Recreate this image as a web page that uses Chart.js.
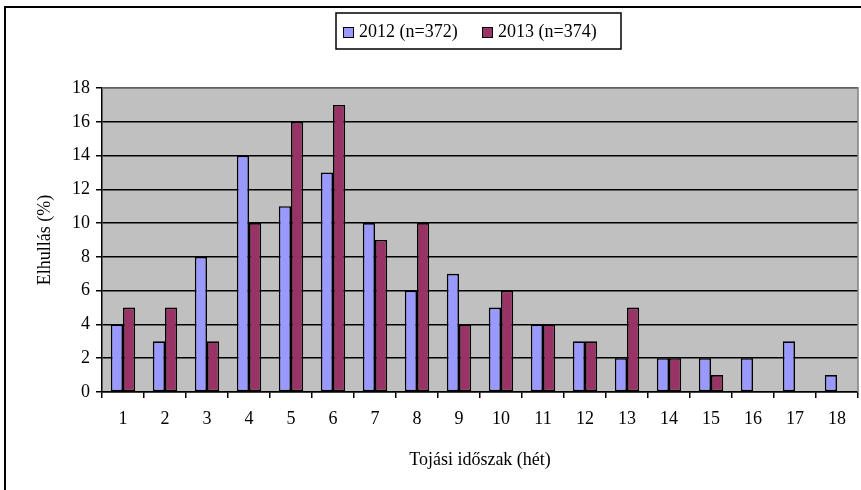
<!DOCTYPE html>
<html>
<head>
<meta charset="utf-8">
<script src="https://cdn.jsdelivr.net/npm/chart.js@4.4.1/dist/chart.umd.min.js"></script>
<style>
  html,body{margin:0;padding:0;background:#fff;}
  #wrap{width:861px;height:490px;position:relative;}
</style>
</head>
<body>
<div id="wrap"><canvas id="c" width="861" height="490"></canvas></div>
<script>
// weekly loss data
const weeks = ['1','2','3','4','5','6','7','8','9','10','11','12','13','14','15','16','17','18'];
const loss2012 = [4,3,8,14,11,13,10,6,7,5,4,3,2,2,2,2,3,1];
const loss2013 = [5,5,3,10,16,17,9,10,4,6,4,3,5,2,1,0,0,0];
const seriesNames = ['2012 (n=372)', '2013 (n=374)'];
const yTicks = [0,2,4,6,8,10,12,14,16,18];

const C = {blue:'#9999ff', wine:'#993366', plot:'#c0c0c0', ink:'#000'};
const SERIF = "'Liberation Serif','Times New Roman',serif";

// grey plot area + frame + boxed legend (Excel look)
const excelBits = {
  id:'excelBits',
  beforeDraw(chart){
    const {ctx, chartArea:a} = chart;
    ctx.save();
    ctx.fillStyle = C.plot;
    ctx.fillRect(a.left, a.top, a.right-a.left, a.bottom-a.top);
    ctx.restore();
  },
  afterDraw(chart){
    const {ctx, chartArea:a} = chart;
    ctx.save();
    // plot border top/right in grey
    ctx.strokeStyle = '#808080'; ctx.lineWidth = 1.5;
    ctx.beginPath();
    ctx.moveTo(a.left, a.top); ctx.lineTo(a.right, a.top); ctx.lineTo(a.right, a.bottom);
    ctx.stroke();
    // outer frame
    ctx.strokeStyle = C.ink; ctx.lineWidth = 2;
    ctx.beginPath();
    ctx.moveTo(5, 490); ctx.lineTo(5, 7); ctx.lineTo(861, 7);
    ctx.stroke();
    // legend
    const bx = 336, by = 13, bw = 285, bh = 36;
    ctx.fillStyle = '#fff'; ctx.fillRect(bx, by, bw, bh);
    ctx.strokeStyle = C.ink; ctx.lineWidth = 1.5;
    ctx.strokeRect(bx, by, bw, bh);
    ctx.font = '18px ' + SERIF;
    ctx.textBaseline = 'middle';
    const itemX = [343, 482];
    chart.data.datasets.forEach((ds, i) => {
      const x = itemX[i];
      ctx.fillStyle = ds.backgroundColor;
      ctx.fillRect(x, 27, 10, 10);
      ctx.lineWidth = 1; ctx.strokeStyle = C.ink;
      ctx.strokeRect(x + .5, 27.5, 10, 10);
      ctx.fillStyle = C.ink;
      ctx.fillText(ds.label, x + 16, 32);
    });
    ctx.restore();
  }
};

new Chart(document.getElementById('c'), {
  type:'bar',
  data:{
    labels: weeks,
    datasets:[
      {label:seriesNames[0], data:loss2012, backgroundColor:C.blue, borderColor:C.ink, borderWidth:1.6, borderSkipped:false},
      {label:seriesNames[1], data:loss2013, backgroundColor:C.wine, borderColor:C.ink, borderWidth:1.6, borderSkipped:false}
    ]
  },
  options:{
    responsive:false, animation:false,
    layout:{padding:{top:88, right:3, left:0, bottom:0}},
    datasets:{bar:{categoryPercentage:0.58, barPercentage:1}},
    plugins:{legend:{display:false}, tooltip:{enabled:false}},
    scales:{
      x:{
        grid:{display:true, drawOnChartArea:false, drawTicks:true, tickLength:6, color:C.ink, lineWidth:1.5, offset:true},
        border:{display:true, color:C.ink, width:1.5},
        ticks:{color:C.ink, font:{family:SERIF, size:18}, padding:10, maxRotation:0},
        title:{display:true, text:'Tojási időszak (hét)', color:C.ink, font:{family:SERIF, size:18}, padding:{top:0, bottom:19}},
        afterFit(s){ s.height = 98; }
      },
      y:{
        min:0, max:18,
        afterBuildTicks(s){ s.ticks = yTicks.map(v => ({value:v})); },
        grid:{color:C.ink, lineWidth:1.5, tickLength:6},
        border:{display:true, color:C.ink, width:1.5},
        ticks:{color:C.ink, font:{family:SERIF, size:18}, padding:6},
        title:{display:true, text:'Elhullás (%)', color:C.ink, font:{family:SERIF, size:18}, padding:{top:34, bottom:0}},
        afterFit(s){ s.width = 102; }
      }
    }
  },
  plugins:[excelBits]
});
</script>
</body>
</html>
